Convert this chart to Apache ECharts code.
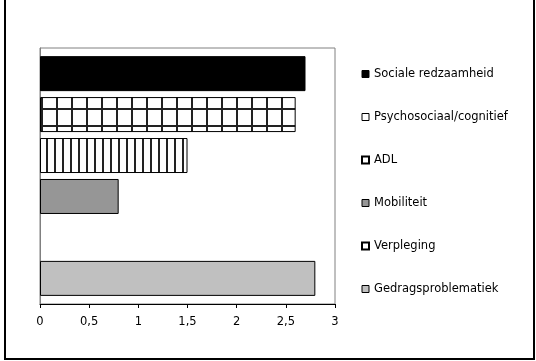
<!DOCTYPE html>
<html><head><meta charset="utf-8">
<script src="https://cdn.jsdelivr.net/npm/echarts@6/dist/echarts.min.js"></script>
<style>html,body{margin:0;padding:0;background:#fff}#c{width:536px;height:361px}</style>
</head><body><div id="c"></div>
<script>
var seriesNames = ['Sociale redzaamheid','Psychosociaal/cognitief','ADL','Mobiliteit','Verpleging','Gedragsproblematiek'];
var seriesValues = [2.7, 2.6, 1.5, 0.8, 0, 2.8];
var xTicks = [0, 0.5, 1, 1.5, 2, 2.5, 3];

function makePattern(w, h, draw) {
  var c = document.createElement('canvas');
  c.width = w; c.height = h;
  var ctx = c.getContext('2d');
  ctx.fillStyle = '#fff'; ctx.fillRect(0, 0, w, h);
  draw(ctx);
  return {image: c, repeat: 'repeat'};
}
var gridPat = makePattern(15, 17, function (ctx) {
  ctx.fillStyle = '#222';
  ctx.fillRect(11, 0, 2, 17);
  ctx.fillRect(0, 6, 15, 2);
});
var vertPat = makePattern(8, 8, function (ctx) {
  ctx.fillStyle = '#222';
  ctx.fillRect(6, 0, 2, 8);
});
var fills = ['#000000', gridPat, vertPat, '#969696', '#ffffff', '#c0c0c0'];
var legendFills = ['#000000', '#ffffff', '#ffffff', '#969696', '#ffffff', '#c0c0c0'];
var legendBorders = [1, 1, 2, 1, 2, 1];

var series = seriesNames.map(function (n, i) {
  return {
    name: n, type: 'bar', data: [seriesValues[i]],
    barWidth: 35, barGap: '17%',
    itemStyle: {color: fills[i], borderColor: '#000', borderWidth: seriesValues[i] === 0 ? 0 : 1},
    emphasis: {disabled: true}, silent: true
  };
});

var chart = echarts.init(document.getElementById('c'), null, {renderer: 'canvas'});
chart.setOption({
  animation: false,
  backgroundColor: '#fff',
  textStyle: {fontFamily: 'DejaVu Sans'},
  grid: {left: 40, right: 201, top: 48, bottom: 57, show: true, borderColor: '#808080', borderWidth: 1},
  xAxis: {
    type: 'value', min: xTicks[0], max: xTicks[xTicks.length - 1], interval: 0.5,
    splitLine: {show: false},
    axisLine: {show: true, lineStyle: {color: '#000', width: 1}},
    axisTick: {show: true, length: 4, lineStyle: {color: '#000'}},
    axisLabel: {color: '#000', fontSize: 11.5, fontFamily: 'DejaVu Sans', margin: 12,
      formatter: function (v) { return String(v).replace('.', ','); }}
  },
  yAxis: {
    type: 'category', data: [''], inverse: true,
    axisLine: {show: true, lineStyle: {color: '#808080'}},
    axisTick: {show: false}, axisLabel: {show: false}
  },
  legend: {
    orient: 'vertical', left: 361, top: 68, padding: 0,
    itemWidth: 7, itemHeight: 7, itemGap: 31,
    icon: 'rect',
    textStyle: {fontSize: 11.5, fontFamily: 'DejaVu Sans', color: '#000', lineHeight: 12},
    selectedMode: false,
    data: seriesNames.map(function (n, i) {
      return {name: n, itemStyle: {color: legendFills[i], borderColor: '#000', borderWidth: legendBorders[i]}};
    })
  },
  graphic: [{
    type: 'rect', silent: true,
    shape: {x: 5, y: -20, width: 529, height: 379},
    style: {fill: null, stroke: '#000', lineWidth: 2}
  }],
  series: series
});
</script></body></html>
